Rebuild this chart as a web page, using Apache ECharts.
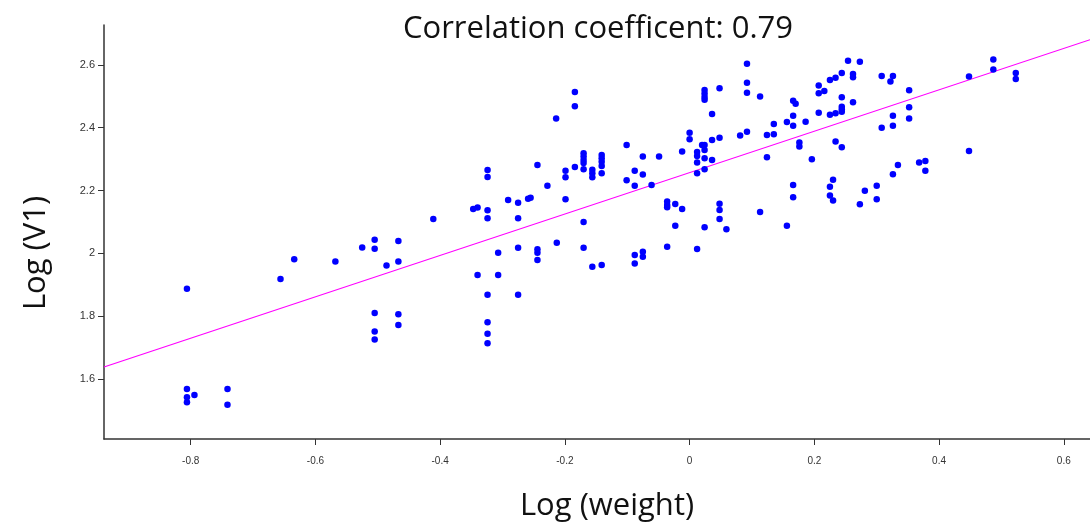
<!DOCTYPE html>
<html>
<head>
<meta charset="utf-8">
<script src="https://cdn.jsdelivr.net/npm/echarts@6/dist/echarts.min.js"></script>
<style>html,body{margin:0;padding:0;background:#fff}#c{width:1090px;height:529px}</style>
</head>
<body>
<div id="c"></div>
<script>
const titleText = "Correlation coefficent: 0.79";
const xName = "Log (weight)";
const yName = "Log (V1)";
const xTicks = [-0.8, -0.6, -0.4, -0.2, 0, 0.2, 0.4, 0.6];
const yTicks = [1.6, 1.8, 2, 2.2, 2.4, 2.6];
const xRange = [-0.939, 0.642];
const yRange = [1.409, 2.727];
const fitSlope = 0.659;
const fitIntercept = 2.257;

const logWeight = [
-0.806,-0.806,-0.806,-0.806,-0.794,-0.741,-0.741,-0.656,-0.634,-0.568,-0.525,
-0.505,-0.505,-0.505,-0.505,-0.505,-0.486,-0.467,-0.467,-0.467,-0.467,
-0.411,-0.347,-0.340,-0.340,
-0.324,-0.324,-0.324,-0.324,-0.324,-0.324,-0.324,-0.324,
-0.307,-0.307,-0.291,-0.275,-0.275,-0.275,-0.275,-0.259,-0.255,
-0.244,-0.244,-0.244,-0.244,-0.228,-0.214,-0.213,
-0.199,-0.199,-0.199,-0.184,-0.184,-0.184,
-0.170,-0.170,-0.170,-0.170,-0.170,-0.170,-0.170,
-0.156,-0.156,-0.156,-0.156,
-0.141,-0.141,-0.141,-0.141,-0.141,-0.141,
-0.101,-0.101,-0.088,-0.088,-0.088,-0.088,
-0.075,-0.075,-0.075,-0.075,-0.061,-0.049,
-0.036,-0.036,-0.036,-0.036,-0.023,-0.023,-0.012,-0.012,
0.000,0.000,0.012,0.012,0.012,0.012,0.012,0.020,
0.024,0.024,0.024,0.024,0.024,0.024,0.024,0.024,0.024,
0.036,0.036,0.036,0.048,0.048,0.048,0.048,0.048,0.059,0.081,
0.092,0.092,0.092,0.092,0.113,0.113,0.124,0.124,0.135,0.135,0.156,0.156,
0.166,0.166,0.166,0.166,0.166,0.170,0.176,0.176,0.186,0.196,
0.207,0.207,0.207,0.216,0.225,0.225,0.225,0.225,0.230,0.230,
0.234,0.234,0.234,0.244,0.244,0.244,0.244,0.244,0.244,0.254,
0.262,0.262,0.262,0.273,0.273,0.281,0.300,0.300,0.308,0.308,0.322,
0.326,0.326,0.326,0.326,0.334,0.352,0.352,0.352,0.368,0.378,0.378,
0.448,0.448,0.487,0.487,0.523,0.523
];
const logV1 = [
1.887,1.568,1.542,1.526,1.549,1.568,1.518,1.918,1.981,1.974,2.019,
2.043,2.015,1.810,1.751,1.726,1.961,2.039,1.974,1.806,1.772,
2.109,2.141,2.146,1.931,
2.265,2.243,2.137,2.112,1.868,1.781,1.744,1.714,
2.002,1.931,2.170,2.161,2.112,2.018,1.868,2.174,2.177,
2.281,2.013,2.002,1.979,2.215,2.429,2.034,
2.263,2.242,2.172,2.514,2.468,2.275,
2.319,2.308,2.297,2.288,2.268,2.100,2.018,
2.266,2.255,2.242,1.957,
2.313,2.303,2.292,2.278,2.255,1.963,
2.345,2.233,2.263,2.215,1.995,1.968,
2.308,2.251,2.005,1.989,2.218,2.308,
2.165,2.154,2.147,2.021,2.157,2.088,2.324,2.141,
2.384,2.363,2.323,2.310,2.289,2.255,2.014,2.345,
2.345,2.329,2.303,2.268,2.520,2.509,2.498,2.489,2.083,
2.444,2.361,2.297,2.526,2.368,2.158,2.138,2.109,2.077,2.375,
2.604,2.543,2.511,2.387,2.499,2.132,2.377,2.306,2.412,2.379,2.418,2.088,
2.486,2.438,2.406,2.218,2.179,2.476,2.353,2.340,2.419,2.300,
2.534,2.510,2.448,2.517,2.552,2.441,2.212,2.184,2.234,2.168,
2.559,2.446,2.356,2.574,2.497,2.467,2.459,2.451,2.338,2.613,
2.571,2.561,2.481,2.610,2.156,2.199,2.215,2.172,2.565,2.400,2.547,
2.565,2.438,2.406,2.252,2.281,2.519,2.465,2.429,2.289,2.294,2.263,
2.563,2.326,2.617,2.585,2.574,2.555
];

const points = logWeight.map((x, i) => [x, logV1[i]]);
const fitLine = xRange.map(x => [x, fitIntercept + fitSlope * x]);

const chart = echarts.init(document.getElementById('c'), null, {renderer: 'canvas'});
const tickFmt = v => String(Math.round(v * 10) / 10);
chart.setOption({
  animation: false,
  backgroundColor: '#ffffff',
  title: {
    text: titleText,
    left: 593,
    textAlign: 'center',
    top: 9,
    textStyle: {fontFamily: 'Open Sans', fontSize: 31, fontWeight: 'normal', color: '#111'}
  },
  grid: {left: 104, right: 0, top: 25, bottom: 90, containLabel: false},
  xAxis: {
    type: 'value',
    min: xRange[0], max: xRange[1],
    name: xName,
    nameLocation: 'middle',
    nameGap: 52,
    nameTextStyle: {fontFamily: 'Open Sans', fontSize: 31, color: '#111', padding: [0, 0, 0, 20]},
    splitLine: {show: false},
    axisLine: {onZero: false, lineStyle: {color: '#333', width: 1.5}},
    axisTick: {show: true, length: 6, customValues: xTicks, lineStyle: {color: '#333'}},
    axisLabel: {customValues: xTicks, formatter: tickFmt, margin: 17, fontSize: 10, fontFamily: 'Liberation Sans Narrow, Liberation Sans', color: '#333'}
  },
  yAxis: {
    type: 'value',
    min: yRange[0], max: yRange[1],
    name: yName,
    nameLocation: 'middle',
    nameGap: 52,
    nameRotate: 90,
    nameTextStyle: {fontFamily: 'Open Sans', fontSize: 31, color: '#111', padding: [0, 42, 0, 0]},
    splitLine: {show: false},
    axisLine: {onZero: false, lineStyle: {color: '#333', width: 1.5}},
    axisTick: {show: true, length: 6, customValues: yTicks, lineStyle: {color: '#333'}},
    axisLabel: {customValues: yTicks, formatter: tickFmt, margin: 9, fontSize: 11, fontFamily: 'Liberation Sans', color: '#333'}
  },
  series: [
    {
      type: 'scatter',
      data: points,
      symbol: 'circle',
      symbolSize: 6.5,
      itemStyle: {color: '#0000ff', opacity: 1},
      z: 3
    },
    {
      type: 'line',
      data: fitLine,
      symbol: 'none',
      lineStyle: {color: '#ff00ff', width: 1.2},
      z: 2
    }
  ]
});
</script>
</body>
</html>
